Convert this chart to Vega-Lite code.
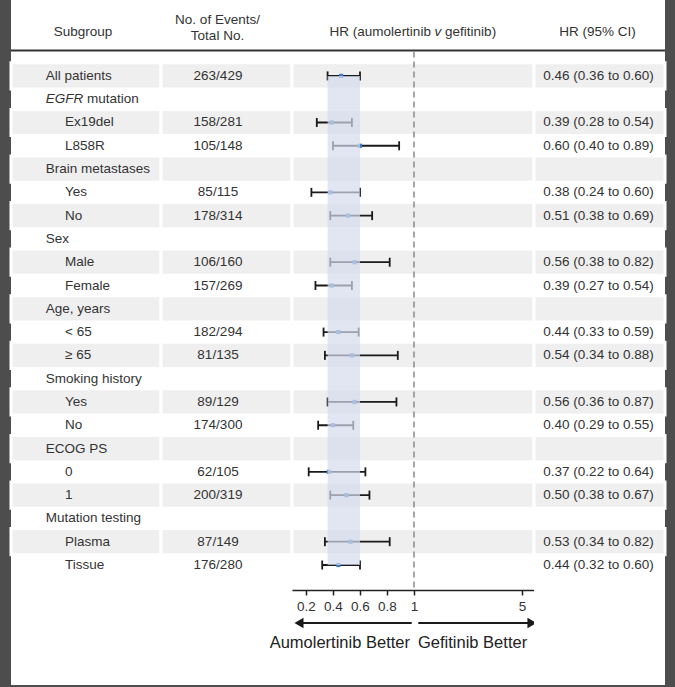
{
  "$schema": "https://vega.github.io/schema/vega-lite/v6.json",
  "background": "#4d4d4d",
  "padding": {"left": 2, "right": 2, "top": 0, "bottom": 2},
  "spacing": 0,
  "bounds": "flush",
  "config": {
    "view": {"fill": "white", "stroke": null},
    "concat": {"spacing": 0},
    "font": "Liberation Sans",
    "text": {"font": "Liberation Sans", "fontSize": 13.5, "color": "#333333", "baseline": "middle"}
  },
  "datasets": {
    "rows": [
      {"row": 1, "label": "All patients", "level": 0, "events": "263/429", "hr": 0.46, "lo": 0.36, "hi": 0.60, "ci": "0.46 (0.36 to 0.60)"},
      {"row": 2, "label": "EGFR mutation", "level": 0},
      {"row": 3, "label": "Ex19del", "level": 1, "events": "158/281", "hr": 0.39, "lo": 0.28, "hi": 0.54, "ci": "0.39 (0.28 to 0.54)"},
      {"row": 4, "label": "L858R", "level": 1, "events": "105/148", "hr": 0.60, "lo": 0.40, "hi": 0.89, "ci": "0.60 (0.40 to 0.89)"},
      {"row": 5, "label": "Brain metastases", "level": 0},
      {"row": 6, "label": "Yes", "level": 1, "events": "85/115", "hr": 0.38, "lo": 0.24, "hi": 0.60, "ci": "0.38 (0.24 to 0.60)"},
      {"row": 7, "label": "No", "level": 1, "events": "178/314", "hr": 0.51, "lo": 0.38, "hi": 0.69, "ci": "0.51 (0.38 to 0.69)"},
      {"row": 8, "label": "Sex", "level": 0},
      {"row": 9, "label": "Male", "level": 1, "events": "106/160", "hr": 0.56, "lo": 0.38, "hi": 0.82, "ci": "0.56 (0.38 to 0.82)"},
      {"row": 10, "label": "Female", "level": 1, "events": "157/269", "hr": 0.39, "lo": 0.27, "hi": 0.54, "ci": "0.39 (0.27 to 0.54)"},
      {"row": 11, "label": "Age, years", "level": 0},
      {"row": 12, "label": "< 65", "level": 1, "events": "182/294", "hr": 0.44, "lo": 0.33, "hi": 0.59, "ci": "0.44 (0.33 to 0.59)"},
      {"row": 13, "label": "≥ 65", "level": 1, "events": "81/135", "hr": 0.54, "lo": 0.34, "hi": 0.88, "ci": "0.54 (0.34 to 0.88)"},
      {"row": 14, "label": "Smoking history", "level": 0},
      {"row": 15, "label": "Yes", "level": 1, "events": "89/129", "hr": 0.56, "lo": 0.36, "hi": 0.87, "ci": "0.56 (0.36 to 0.87)"},
      {"row": 16, "label": "No", "level": 1, "events": "174/300", "hr": 0.40, "lo": 0.29, "hi": 0.55, "ci": "0.40 (0.29 to 0.55)"},
      {"row": 17, "label": "ECOG PS", "level": 0},
      {"row": 18, "label": "0", "level": 1, "events": "62/105", "hr": 0.37, "lo": 0.22, "hi": 0.64, "ci": "0.37 (0.22 to 0.64)"},
      {"row": 19, "label": "1", "level": 1, "events": "200/319", "hr": 0.50, "lo": 0.38, "hi": 0.67, "ci": "0.50 (0.38 to 0.67)"},
      {"row": 20, "label": "Mutation testing", "level": 0},
      {"row": 21, "label": "Plasma", "level": 1, "events": "87/149", "hr": 0.53, "lo": 0.34, "hi": 0.82, "ci": "0.53 (0.34 to 0.82)"},
      {"row": 22, "label": "Tissue", "level": 1, "events": "176/280", "hr": 0.44, "lo": 0.32, "hi": 0.60, "ci": "0.44 (0.32 to 0.60)"}
    ]
  },
  "hconcat": [
    {
      "width": 9, "height": 685,
      "data": {"values": [{}]},
      "mark": {"type": "point", "opacity": 0},
      "encoding": {}
    },
    {
      "width": 150, "height": 685,
      "data": {"name": "rows"},
      "layer": [
        {
          "transform": [{"filter": "datum.row % 2 == 1"}],
          "mark": {"type": "rect", "fill": "#efefef", "stroke": "white", "strokeWidth": 3, "yOffset": -13.1, "y2Offset": 13.1},
          "encoding": {
            "y": {"field": "row", "type": "quantitative", "scale": {"domain": [-2.259, 27.153], "reverse": true, "nice": false, "zero": false}, "axis": null},
            "y2": {"field": "row"}
          }
        },
        {
          "data": {"values": [{}]},
          "mark": {"type": "rule", "color": "#333333", "strokeWidth": 2},
          "encoding": {"y": {"datum": -0.09}}
        },
        {
          "data": {"values": [{"t": "Subgroup"}]},
          "mark": {"type": "text", "dx": -3},
          "encoding": {"text": {"field": "t"}, "y": {"datum": -0.885}}
        },
        {
          "transform": [{"filter": "datum.level == 0 && datum.row != 2"}],
          "mark": {"type": "text", "align": "left", "dx": -40.3},
          "encoding": {"text": {"field": "label"}, "y": {"field": "row", "type": "quantitative"}}
        },
        {
          "transform": [{"filter": "datum.level == 1"}],
          "mark": {"type": "text", "align": "left", "dx": -21},
          "encoding": {"text": {"field": "label"}, "y": {"field": "row", "type": "quantitative"}}
        },
        {
          "transform": [{"filter": "datum.row == 2"}],
          "mark": {"type": "text", "align": "left", "dx": -40.3, "fontStyle": "italic"},
          "encoding": {"text": {"value": "EGFR"}, "y": {"field": "row", "type": "quantitative"}}
        },
        {
          "transform": [{"filter": "datum.row == 2"}],
          "mark": {"type": "text", "align": "left", "dx": 0.9},
          "encoding": {"text": {"value": "mutation"}, "y": {"field": "row", "type": "quantitative"}}
        }
      ]
    },
    {
      "width": 131, "height": 685,
      "data": {"name": "rows"},
      "layer": [
        {
          "transform": [{"filter": "datum.row % 2 == 1"}],
          "mark": {"type": "rect", "fill": "#efefef", "stroke": "white", "strokeWidth": 3, "yOffset": -13.1, "y2Offset": 13.1},
          "encoding": {
            "y": {"field": "row", "type": "quantitative", "scale": {"domain": [-2.259, 27.153], "reverse": true, "nice": false, "zero": false}, "axis": null},
            "y2": {"field": "row"}
          }
        },
        {
          "data": {"values": [{}]},
          "mark": {"type": "rule", "color": "#333333", "strokeWidth": 2},
          "encoding": {"y": {"datum": -0.09}}
        },
        {
          "data": {"values": [{"t": ["No. of Events/", "Total No."]}]},
          "mark": {"type": "text", "dx": -9, "lineHeight": 16},
          "encoding": {"text": {"field": "t"}, "y": {"datum": -1.38}}
        },
        {
          "transform": [{"filter": "datum.events"}],
          "mark": {"type": "text", "dx": -8.5},
          "encoding": {"text": {"field": "events"}, "y": {"field": "row", "type": "quantitative"}}
        }
      ]
    },
    {
      "width": 242, "height": 685,
      "data": {"name": "rows"},
      "layer": [
        {
          "transform": [{"filter": "datum.row % 2 == 1"}],
          "mark": {"type": "rect", "fill": "#efefef", "stroke": "white", "strokeWidth": 3, "yOffset": -13.1, "y2Offset": 13.1},
          "encoding": {
            "y": {"field": "row", "type": "quantitative", "scale": {"domain": [-2.259, 27.153], "reverse": true, "nice": false, "zero": false}, "axis": null},
            "y2": {"field": "row"}
          }
        },
        {
          "data": {"values": [{}]},
          "mark": {"type": "rule", "color": "#333333", "strokeWidth": 2},
          "encoding": {"y": {"datum": -0.09}}
        },
        {
          "data": {"values": [{"t": "HR (aumolertinib"}]},
          "mark": {"type": "text", "align": "right", "dx": 17.9},
          "encoding": {"text": {"field": "t"}, "y": {"datum": -0.885}}
        },
        {
          "data": {"values": [{"t": "v"}]},
          "mark": {"type": "text", "align": "left", "dx": 21.6, "fontStyle": "italic"},
          "encoding": {"text": {"field": "t"}, "y": {"datum": -0.885}}
        },
        {
          "data": {"values": [{"t": "gefitinib)"}]},
          "mark": {"type": "text", "align": "left", "dx": 32.1},
          "encoding": {"text": {"field": "t"}, "y": {"datum": -0.885}}
        },
        {
          "data": {"values": [{}]},
          "mark": {"type": "rule", "color": "#8a8a8a", "strokeWidth": 1.5, "strokeDash": [6, 4]},
          "encoding": {"x": {"datum": 1}, "y": {"datum": -0.05}, "y2": {"datum": 23.07}}
        },
        {
          "transform": [{"filter": "datum.hr"}],
          "mark": {"type": "rule", "color": "#1a1a1a", "strokeWidth": 1.8},
          "encoding": {
            "x": {"field": "lo", "type": "quantitative", "title": null,
                  "scale": {"domain": [0.0963, 1, 5.444], "range": [0, 122, 242], "nice": false, "zero": false},
                  "axis": {"values": [0.2, 0.4, 0.6, 0.8, 1, 5], "format": "~g", "orient": "bottom", "offset": -95, "title": null, "grid": false,
                           "domainColor": "#222222", "domainWidth": 1.5, "tickColor": "#222222", "tickWidth": 1.5, "tickSize": 5,
                           "labelFontSize": 13.5, "labelColor": "#333333", "labelPadding": 4, "labelFont": "Liberation Sans", "labelFlush": false, "labelOverlap": false}},
            "x2": {"field": "hi"},
            "y": {"field": "row", "type": "quantitative"}
          }
        },
        {
          "transform": [{"filter": "datum.hr"}],
          "mark": {"type": "rule", "color": "#1a1a1a", "strokeWidth": 1.8, "yOffset": -4.5, "y2Offset": 4.5},
          "encoding": {
            "x": {"field": "lo", "type": "quantitative", "title": null},
            "y": {"field": "row", "type": "quantitative"},
            "y2": {"field": "row"}
          }
        },
        {
          "transform": [{"filter": "datum.hr"}],
          "mark": {"type": "rule", "color": "#1a1a1a", "strokeWidth": 1.8, "yOffset": -4.5, "y2Offset": 4.5},
          "encoding": {
            "x": {"field": "hi", "type": "quantitative", "title": null},
            "y": {"field": "row", "type": "quantitative"},
            "y2": {"field": "row"}
          }
        },
        {
          "transform": [{"filter": "datum.hr"}],
          "mark": {"type": "square", "color": "#3d7cc0", "size": 18, "opacity": 1},
          "encoding": {
            "x": {"field": "hr", "type": "quantitative", "title": null},
            "y": {"field": "row", "type": "quantitative"}
          }
        },
        {
          "data": {"values": [{}]},
          "mark": {"type": "rect", "fill": "#d5dbee", "opacity": 0.7},
          "encoding": {"x": {"datum": 0.36}, "x2": {"datum": 0.6}, "y": {"datum": 1}, "y2": {"datum": 22}}
        },
        {
          "data": {"values": [{}]},
          "mark": {"type": "rule", "color": "#1a1a1a", "strokeWidth": 2},
          "encoding": {"x": {"datum": 0.983}, "x2": {"datum": 0.16}, "y": {"datum": 24.49}}
        },
        {
          "data": {"values": [{}]},
          "mark": {"type": "rule", "color": "#1a1a1a", "strokeWidth": 2},
          "encoding": {"x": {"datum": 1.159}, "x2": {"datum": 5.3}, "y": {"datum": 24.49}}
        },
        {
          "data": {"values": [{}]},
          "mark": {"type": "point", "shape": "triangle-left", "filled": true, "color": "#1a1a1a", "size": 110, "opacity": 1},
          "encoding": {"x": {"datum": 0.148}, "y": {"datum": 24.49}}
        },
        {
          "data": {"values": [{}]},
          "mark": {"type": "point", "shape": "triangle-right", "filled": true, "color": "#1a1a1a", "size": 110, "opacity": 1},
          "encoding": {"x": {"datum": 5.37}, "y": {"datum": 24.49}}
        },
        {
          "data": {"values": [{"t": "Aumolertinib Better"}]},
          "mark": {"type": "text", "align": "right", "dx": -4, "fontSize": 16.5, "color": "#222222"},
          "encoding": {"text": {"field": "t"}, "x": {"datum": 1}, "y": {"datum": 25.35}}
        },
        {
          "data": {"values": [{"t": "Gefitinib Better"}]},
          "mark": {"type": "text", "align": "left", "dx": 4, "fontSize": 16.5, "color": "#222222"},
          "encoding": {"text": {"field": "t"}, "x": {"datum": 1}, "y": {"datum": 25.35}}
        }
      ]
    },
    {
      "width": 131, "height": 685,
      "data": {"name": "rows"},
      "layer": [
        {
          "transform": [{"filter": "datum.row % 2 == 1"}],
          "mark": {"type": "rect", "fill": "#efefef", "stroke": "white", "strokeWidth": 3, "yOffset": -13.1, "y2Offset": 13.1},
          "encoding": {
            "y": {"field": "row", "type": "quantitative", "scale": {"domain": [-2.259, 27.153], "reverse": true, "nice": false, "zero": false}, "axis": null},
            "y2": {"field": "row"}
          }
        },
        {
          "data": {"values": [{}]},
          "mark": {"type": "rule", "color": "#333333", "strokeWidth": 2},
          "encoding": {"y": {"datum": -0.09}}
        },
        {
          "data": {"values": [{"t": "HR (95% CI)"}]},
          "mark": {"type": "text", "dx": -2},
          "encoding": {"text": {"field": "t"}, "y": {"datum": -0.885}}
        },
        {
          "transform": [{"filter": "datum.ci"}],
          "mark": {"type": "text", "dx": -1},
          "encoding": {"text": {"field": "ci"}, "y": {"field": "row", "type": "quantitative"}}
        }
      ]
    },
    {
      "width": 8, "height": 685,
      "data": {"values": [{}]},
      "mark": {"type": "point", "opacity": 0},
      "encoding": {}
    }
  ]
}
